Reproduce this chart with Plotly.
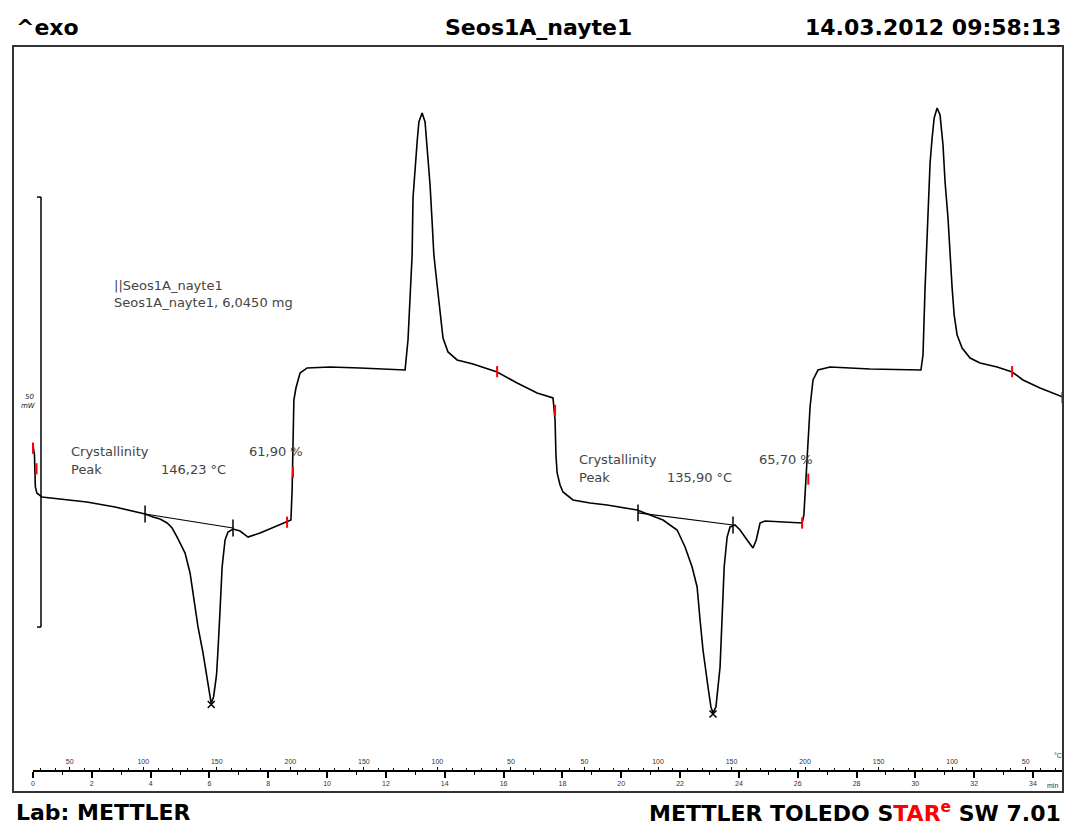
import plotly.graph_objects as go

# ---------------- data (time in min, heat flow in mW, exo up) ----------------
time_min = [0.00, 0.02, 0.05, 0.08, 0.13, 0.30, 0.92, 1.83, 2.79, 3.81,
            4.08, 4.32, 4.56, 4.73, 4.90, 5.03, 5.17, 5.34, 5.44, 5.61,
            5.78, 5.92, 6.02, 6.06, 6.14, 6.24, 6.29, 6.32, 6.36, 6.43,
            6.53, 6.63, 6.80, 7.04, 7.31, 7.72, 8.23, 8.64, 8.77, 8.81,
            8.82, 8.84, 8.87, 8.94, 8.98, 9.08, 9.32, 10.10, 11.12, 12.14,
            12.48, 12.65, 12.75, 12.82, 12.89, 12.92, 12.99, 13.06, 13.12, 13.23,
            13.33, 13.40, 13.50, 13.57, 13.63, 13.74, 13.84, 13.94, 14.11, 14.42,
            14.96, 15.78, 16.46, 17.14, 17.68, 17.75, 17.78, 17.82, 17.92, 18.02,
            18.36, 18.94, 19.52, 20.54, 20.98, 21.42, 21.90, 22.17, 22.41, 22.58,
            22.68, 22.78, 22.95, 23.05, 23.12, 23.22, 23.36, 23.43, 23.50, 23.60,
            23.70, 23.87, 24.04, 24.28, 24.48, 24.59, 24.72, 24.89, 25.84, 26.15,
            26.21, 26.25, 26.35, 26.42, 26.52, 26.69, 27.10, 28.46, 30.19, 30.26,
            30.33, 30.43, 30.50, 30.57, 30.64, 30.74, 30.84, 30.94, 31.01, 31.11,
            31.18, 31.25, 31.32, 31.42, 31.59, 31.86, 32.20, 32.78, 33.29, 33.66,
            34.24, 35.02]
heat_flow_mw = [13.37, 13.02, 12.21, 8.49, 7.79, 7.33, 7.09, 6.74, 6.16, 5.35,
                5.00, 4.77, 4.30, 3.72, 2.67, 1.74, 0.81, -1.51, -3.84, -7.79,
                -10.81, -13.60, -15.80, -16.70, -15.90, -13.37, -10.47, -7.50, -5.81, -0.81,
                2.33, 3.26, 3.60, 3.37, 2.67, 3.14, 3.84, 4.42, 4.65, 8.14,
                10.12, 13.60, 18.60, 20.00, 20.58, 21.74, 22.33, 22.44, 22.33, 22.21,
                22.09, 22.09, 25.58, 30.23, 35.47, 42.09, 45.70, 48.60, 50.93, 51.98,
                50.93, 47.91, 43.60, 39.30, 35.47, 31.98, 28.49, 25.81, 24.19, 23.26,
                22.79, 21.86, 20.58, 19.42, 18.84, 16.28, 12.21, 10.12, 8.72, 7.91,
                6.98, 6.63, 6.40, 5.81, 5.23, 4.65, 3.49, 1.51, -0.81, -3.14,
                -6.98, -10.47, -14.77, -17.09, -17.79, -17.09, -12.44, -5.81, -0.81, 2.67,
                3.84, 4.07, 3.49, 2.33, 1.40, 2.33, 4.30, 4.53, 4.42, 4.30,
                5.23, 7.79, 13.60, 17.79, 20.93, 22.09, 22.44, 22.21, 22.09, 23.84,
                31.63, 41.63, 46.16, 49.07, 51.40, 52.56, 51.74, 48.26, 43.95, 39.77,
                35.47, 31.63, 28.49, 26.16, 24.65, 23.49, 22.91, 22.44, 21.86, 20.93,
                20.00, 18.95]

# segment limit marks (red)
limit_t = [0.00, 0.12, 8.64, 8.84, 15.78, 17.75, 26.15, 26.36, 33.29, 35.00]
limit_hf = [13.0, 10.6, 4.4, 10.2, 21.9, 17.4, 4.3, 9.4, 21.9, 18.9]

# integration baselines and peaks
base1_t = [3.81, 6.80]
base1_hf = [5.35, 3.72]
peak1_t, peak1_hf = 6.06, -16.8
base2_t = [20.57, 23.80]
base2_hf = [5.47, 4.07]
peak2_t, peak2_hf = 23.12, -17.9

# axes ticks
time_ticks = list(range(0, 35, 2))
temp_tick_times = [1.25, 3.75, 6.25, 8.75, 11.25, 13.75, 16.25,
                   18.75, 21.25, 23.75, 26.25, 28.75, 31.25, 33.75]
temp_tick_labels = ['50', '100', '150', '200', '150', '100', '50',
                    '50', '100', '150', '200', '150', '100', '50']

# scale bar (mW)
scale_bottom = -7.8
scale_length = 50

# ---------------- figure ----------------
W, H = 1068, 828
ML, MR, MT, MB = 13, 5, 46, 36
PW, PH = W - ML - MR, H - MT - MB
Y_RANGE = [-26.98, 59.77]
X_RANGE = [0, 35.02]
X_DOMAIN = [20 / PW, 1]
AXIS_POS = (792 - 771) / PH


def px_x(px):
    return (px - ML) / PW


def px_y(py):
    return (H - MB - py) / PH


fig = go.Figure()

fig.add_trace(go.Scatter(x=time_min, y=heat_flow_mw, mode='lines',
                         line=dict(color='black', width=1.6),
                         hoverinfo='skip', showlegend=False))

for bt, bh in ((base1_t, base1_hf), (base2_t, base2_hf)):
    fig.add_trace(go.Scatter(x=bt, y=bh, mode='lines+markers',
                             line=dict(color='black', width=1.2),
                             marker=dict(symbol='line-ns', size=12,
                                         line=dict(color='black', width=1.5)),
                             hoverinfo='skip', showlegend=False))

fig.add_trace(go.Scatter(x=[peak1_t, peak2_t], y=[peak1_hf, peak2_hf], mode='markers',
                         marker=dict(symbol='x-thin', size=7,
                                     line=dict(color='black', width=1.5)),
                         hoverinfo='skip', showlegend=False))

fig.add_trace(go.Scatter(x=limit_t, y=limit_hf, mode='markers',
                         marker=dict(symbol='line-ns', size=8,
                                     line=dict(color='red', width=2)),
                         cliponaxis=False,
                         hoverinfo='skip', showlegend=False))

# invisible trace that activates the temperature axis
fig.add_trace(go.Scatter(x=temp_tick_times, y=[Y_RANGE[0] - 10] * len(temp_tick_times),
                         xaxis='x2', mode='markers', marker=dict(opacity=0),
                         showlegend=False, hoverinfo='skip'))

tickfont = dict(family='Liberation Sans, Arial, sans-serif', size=7, color='#333')

fig.update_layout(
    width=W, height=H,
    margin=dict(l=ML, r=MR, t=MT, b=MB),
    paper_bgcolor='white', plot_bgcolor='white',
    xaxis=dict(domain=X_DOMAIN, range=X_RANGE, anchor='free', position=AXIS_POS,
               showgrid=False, zeroline=False, showline=True, linecolor='black',
               linewidth=2, tickmode='array', tickvals=time_ticks,
               ticks='outside', ticklen=6, tickwidth=1.5, tickcolor='black',
               tickfont=tickfont,
               minor=dict(tick0=0, dtick=1, ticks='outside', ticklen=3,
                          tickwidth=1.2, tickcolor='black', showgrid=False)),
    xaxis2=dict(range=X_RANGE, overlaying='x', side='top', anchor='free',
                position=AXIS_POS, showgrid=False, zeroline=False, showline=False,
                tickmode='array', tickvals=temp_tick_times, ticktext=temp_tick_labels,
                ticks='outside', ticklen=4, tickwidth=1.2, tickcolor='black',
                tickfont=tickfont,
                minor=dict(tick0=0.25, dtick=0.5, ticks='outside', ticklen=3,
                           tickwidth=1.2, tickcolor='black', showgrid=False)),
    yaxis=dict(range=Y_RANGE, domain=[0, 1], visible=False, showgrid=False,
               zeroline=False),
)

# frame
fig.add_shape(type='rect', xref='paper', yref='paper', x0=0, x1=1, y0=0, y1=1,
              line=dict(color='#333', width=2), layer='above')

# scale bar
sb_x = px_x(41)
fig.add_shape(type='line', xref='paper', yref='y', x0=sb_x, x1=sb_x,
              y0=scale_bottom, y1=scale_bottom + scale_length,
              line=dict(color='black', width=1.5))
for yy in (scale_bottom, scale_bottom + scale_length):
    fig.add_shape(type='line', xref='paper', yref='y', x0=px_x(37), x1=sb_x,
                  y0=yy, y1=yy, line=dict(color='black', width=1.5))

txt_font = dict(family='DejaVu Sans, sans-serif', size=13, color='#444')
head_font = dict(family='DejaVu Sans, sans-serif', size=22, color='black')
foot_font = dict(family='DejaVu Sans, sans-serif', size=22, color='black')


def ann(text, px, py, font, xanchor='left'):
    fig.add_annotation(text=text, xref='paper', yref='paper', x=px_x(px), y=px_y(py),
                       xanchor=xanchor, yanchor='middle', showarrow=False, font=font)


# header
ann('<b>^exo</b>', 14, 27, head_font)
ann('<b>Seos1A_nayte1</b>', 538, 27, head_font, 'center')
ann('<b>14.03.2012 09:58:13</b>', 1063, 27, head_font, 'right')

# footer
ann('<b>Lab: METTLER</b>', 14, 812, foot_font)
ann('<b>METTLER TOLEDO S<span style="color:red">TAR</span>'
    '<span style="color:red"><sup>e</sup></span> SW 7.01</b>', 1063, 812, foot_font, 'right')

# curve info
ann('||Seos1A_nayte1', 112, 285, txt_font)
ann('Seos1A_nayte1, 6,0450 mg', 112, 302, txt_font)

ann('Crystallinity', 69, 452, txt_font)
ann('61,90 %', 247, 452, txt_font)
ann('Peak', 69, 469, txt_font)
ann('146,23 °C', 159, 469, txt_font)

ann('Crystallinity', 577, 460, txt_font)
ann('65,70 %', 757, 460, txt_font)
ann('Peak', 577, 477, txt_font)
ann('135,90 °C', 665, 477, txt_font)

small_font = dict(family='DejaVu Sans, sans-serif', size=7, color='#222')
ann('<i>50</i>', 29, 397, small_font, 'center')
ann('<i>mW</i>', 28, 406, small_font, 'center')

# axis unit labels
fig.add_annotation(text='°C', xref='x', yref='paper', x=34.85, y=px_y(755),
                   showarrow=False, font=tickfont, xanchor='center', yanchor='middle')
fig.add_annotation(text='min', xref='x', yref='paper', x=34.65, y=px_y(785),
                   showarrow=False, font=tickfont, xanchor='center', yanchor='middle')

fig.write_html('out.html')
